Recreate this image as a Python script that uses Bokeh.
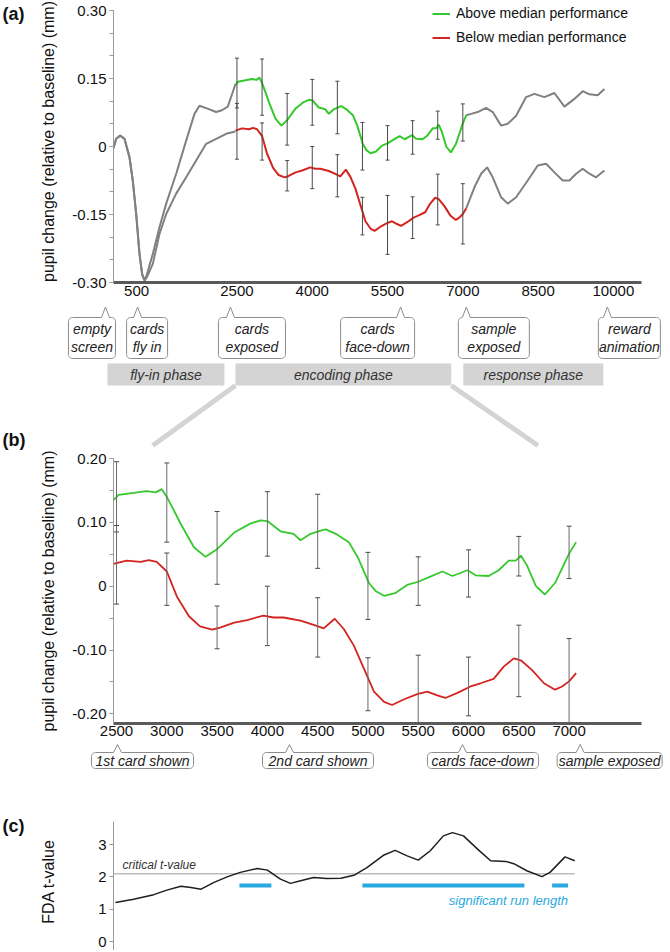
import math
from bokeh.plotting import figure
from bokeh.models import Range1d, FixedTicker, Legend, LegendItem
from bokeh.layouts import column, row
from bokeh.embed import file_html
from bokeh.resources import INLINE
from bokeh.core.properties import value

# ---------------- data (time in ms, pupil change in mm) ----------------
# panel (a) grey traces before the encoding phase
pre_above_t = [40, 93, 173, 259, 359, 424, 492, 558, 611, 657, 691, 823, 956, 1090, 1289, 1488, 1653, 1753, 1900, 2085, 2200, 2317, 2410, 2470]
pre_above_v = [-0.004, 0.017, 0.024, 0.017, -0.024, -0.075, -0.149, -0.237, -0.281, -0.294, -0.288, -0.237, -0.178, -0.126, -0.060, 0.013, 0.072, 0.090, 0.084, 0.076, 0.080, 0.088, 0.118, 0.138]
pre_below_t = [40, 93, 173, 259, 359, 424, 492, 558, 611, 660, 720, 823, 956, 1090, 1289, 1488, 1687, 1886, 2085, 2284, 2470]
pre_below_v = [-0.004, 0.017, 0.024, 0.017, -0.024, -0.075, -0.149, -0.237, -0.283, -0.296, -0.285, -0.259, -0.193, -0.149, -0.104, -0.068, -0.031, 0.006, 0.017, 0.028, 0.033]

# encoding phase (shown in (a) and (b))
above_t = [2470, 2520, 2670, 2800, 2890, 2950, 3000, 3060, 3140, 3270, 3385, 3500, 3670, 3830, 3930, 4000, 4130, 4260, 4330, 4430, 4530, 4580, 4680, 4810, 4900, 5010, 5080, 5160, 5270, 5390, 5500, 5620, 5740, 5840, 5990, 6070, 6200, 6300, 6400, 6470, 6520, 6580, 6670, 6760, 6860, 7000, 7070]
above_v = [0.135, 0.143, 0.146, 0.149, 0.147, 0.152, 0.140, 0.122, 0.097, 0.061, 0.046, 0.058, 0.084, 0.098, 0.103, 0.102, 0.086, 0.082, 0.072, 0.082, 0.087, 0.089, 0.082, 0.069, 0.045, 0.005, -0.008, -0.015, -0.011, 0.002, 0.007, 0.015, 0.023, 0.016, 0.025, 0.017, 0.016, 0.025, 0.040, 0.040, 0.048, 0.033, 0.000, -0.013, 0.005, 0.051, 0.069]
below_t = [2470, 2600, 2740, 2820, 2900, 3000, 3100, 3220, 3330, 3450, 3530, 3670, 3800, 3960, 4060, 4160, 4330, 4490, 4560, 4670, 4760, 4860, 4960, 5060, 5160, 5240, 5360, 5490, 5590, 5690, 5770, 5890, 6020, 6120, 6250, 6350, 6450, 6520, 6630, 6750, 6860, 6930, 7000, 7070]
below_v = [0.035, 0.040, 0.038, 0.041, 0.038, 0.023, -0.016, -0.047, -0.063, -0.068, -0.065, -0.057, -0.053, -0.046, -0.049, -0.049, -0.054, -0.062, -0.066, -0.051, -0.067, -0.093, -0.129, -0.165, -0.181, -0.186, -0.177, -0.169, -0.165, -0.171, -0.175, -0.167, -0.157, -0.152, -0.145, -0.126, -0.113, -0.116, -0.131, -0.152, -0.162, -0.157, -0.149, -0.136]

# error bars every 500 ms
err_t = [2500, 3000, 3500, 4000, 4500, 5000, 5500, 6000, 6500, 7000]
above_lo = [0.085, 0.069, 0.003, 0.047, 0.028, -0.052, -0.030, -0.017, 0.016, 0.012]
above_hi = [0.195, 0.193, 0.117, 0.148, 0.144, 0.053, 0.046, 0.057, 0.078, 0.094]
below_lo = [-0.028, -0.030, -0.098, -0.093, -0.111, -0.195, -0.238, -0.203, -0.173, -0.215]
below_hi = [0.095, 0.052, -0.031, 0.000, -0.018, -0.112, -0.108, -0.111, -0.061, -0.082]

# panel (a) grey traces after the encoding phase
post_above_t = [7070, 7165, 7297, 7464, 7596, 7763, 7895, 8062, 8261, 8426, 8625, 8825, 9024, 9223, 9389, 9522, 9688, 9821]
post_above_v = [0.069, 0.072, 0.076, 0.085, 0.076, 0.046, 0.050, 0.068, 0.109, 0.116, 0.109, 0.118, 0.088, 0.105, 0.122, 0.115, 0.113, 0.127]
post_below_t = [7070, 7231, 7365, 7484, 7596, 7763, 7895, 8062, 8293, 8492, 8659, 8825, 8990, 9124, 9257, 9389, 9522, 9655, 9821]
post_below_v = [-0.136, -0.090, -0.060, -0.046, -0.068, -0.112, -0.126, -0.112, -0.075, -0.042, -0.038, -0.057, -0.075, -0.075, -0.060, -0.049, -0.060, -0.068, -0.053]

# panel (c) FDA t-values
fda_t = [2490, 2670, 2870, 3000, 3140, 3240, 3340, 3470, 3600, 3730, 3900, 4000, 4130, 4230, 4330, 4460, 4590, 4730, 4860, 4990, 5160, 5270, 5390, 5500, 5620, 5750, 5840, 5950, 6090, 6220, 6370, 6450, 6580, 6730, 6810, 6960, 7056]
fda_v = [1.21, 1.31, 1.45, 1.59, 1.71, 1.67, 1.62, 1.83, 2.00, 2.14, 2.26, 2.21, 1.93, 1.80, 1.88, 1.98, 1.95, 1.96, 2.05, 2.29, 2.68, 2.82, 2.65, 2.52, 2.81, 3.27, 3.37, 3.27, 2.86, 2.50, 2.48, 2.41, 2.19, 2.01, 2.14, 2.62, 2.50]
critical_t = 2.1
run_start = [3722, 4945, 6831]
run_end = [4040, 6556, 6990]
run_level = 1.73

# ticks / labels
a_xticks = [500, 2500, 4000, 5500, 7000, 8500, 10000]
a_yticks = [-0.30, -0.15, 0.0, 0.15, 0.30]
a_ylabels = ["-0.30", "-0.15", "0", "0.15", "0.30"]
b_xticks = [2500, 3000, 3500, 4000, 4500, 5000, 5500, 6000, 6500, 7000]
b_yticks = [-0.20, -0.10, 0.0, 0.10, 0.20]
b_ylabels = ["-0.20", "-0.10", "0", "0.10", "0.20"]
c_yticks = [0, 1, 2, 3]

series_names = ["Above median performance", "Below median performance"]
callouts_a = ["empty\nscreen", "cards\nfly in", "cards\nexposed", "cards\nface-down", "sample\nexposed", "reward\nanimation"]
callouts_a_t = [-120, 520, 2370, 5760, 7070, 9880]
phases = ["fly-in phase", "encoding phase", "response phase"]
phase_start = [-80, 2470, 7010]
phase_end = [2250, 6770, 9800]
callouts_b = ["1st card shown", "2nd card shown", "cards face-down", "sample exposed"]
callouts_b_t = [2510, 4220, 5940, 7110]

# ---------------- styling / layout ----------------
FONT = "Liberation Sans"
GREEN = "#36c82c"
RED = "#d42420"
GREY = "#808080"
BLUE = "#2aa8e0"
FIG_W = 670
FL = 113
FW = 528
FR = FIG_W - FL - FW
LAB_W = 30  # width of the little panel-letter figures

A_X = (40, 10560)
B_X = (2470, 7720)


def kx(xr):
    return (xr[1] - xr[0]) / FW


def page_to_t(px, xr):
    return xr[0] + (px - FL) * kx(xr)


def t_to_page(t, xr):
    return FL + (t - xr[0]) / kx(xr)


def strip_range(xr):
    k = kx(xr)
    return Range1d(xr[0] - FL * k, xr[0] + (FIG_W - FL) * k)


def make_fig(h, xr, yr, top, bottom, xaxis=True, yaxis=True, width=FIG_W, left=FL):
    p = figure(width=width, height=h, x_range=xr, y_range=yr, output_backend="svg",
               toolbar_location=None, title=None, tools="",
               x_axis_type="linear" if xaxis else None,
               y_axis_type="linear" if yaxis else None,
               min_border_left=left if yaxis else 0, min_border_right=FR if yaxis else 0,
               min_border_top=top, min_border_bottom=bottom)
    p.grid.visible = False
    p.outline_line_color = None
    p.background_fill_color = "white"
    p.border_fill_color = "white"
    try:
        p.frame_align = False
    except Exception:
        pass
    return p


def letter_fig(h, txt, y_center):
    f = make_fig(h, Range1d(0, LAB_W), Range1d(h, 0), 0, 0, xaxis=False, yaxis=False, width=LAB_W)
    f.text(x=[2], y=[y_center], text=[txt], text_font=value(FONT), text_font_style="bold",
           text_font_size="18px", text_color="#111111", text_align="left", text_baseline="middle")
    return f


def style_y(ax, ticks, minor, labels, title, standoff, bounds):
    ax.ticker = FixedTicker(ticks=ticks, minor_ticks=minor)
    ax.bounds = bounds
    if labels is not None:
        ax.major_label_overrides = {t: l for t, l in zip(ticks, labels)}
    ax.axis_label = title
    ax.axis_label_text_font = FONT
    ax.axis_label_text_font_size = "16px"
    ax.axis_label_text_font_style = "normal"
    ax.axis_label_text_color = "#111111"
    ax.axis_label_standoff = standoff
    ax.major_label_text_font = FONT
    ax.major_label_text_font_size = "15px"
    ax.major_label_text_color = "#111111"
    ax.major_label_standoff = 3
    ax.axis_line_color = "#9a9a9a"
    ax.major_tick_line_color = "#9a9a9a"
    ax.minor_tick_line_color = "#9a9a9a"
    ax.major_tick_out = 4
    ax.major_tick_in = 0
    ax.minor_tick_out = 4
    ax.minor_tick_in = 0


def style_x(ax, ticks):
    ax.ticker = FixedTicker(ticks=ticks)
    ax.major_label_text_font = FONT
    ax.major_label_text_font_size = "15px"
    ax.major_label_text_color = "#111111"
    ax.major_label_standoff = 3
    ax.axis_line_color = "#5a5a5a"
    ax.axis_line_width = 3
    ax.major_tick_line_color = None
    ax.minor_tick_line_color = None
    ax.major_tick_out = 0
    ax.major_tick_in = 0


def bubble(L, R, T, B, tip, tip_y, r=4, hw=4, n=6):
    pts = [(L + r, T), (tip - hw, T), (tip, tip_y), (tip + hw, T), (R - r, T)]
    corners = [(R - r, T + r, -90), (R - r, B - r, 0), (L + r, B - r, 90), (L + r, T + r, 180)]
    for cx, cy, a0 in corners:
        for i in range(n + 1):
            a = math.radians(a0 + 90 * i / n)
            pts.append((cx + r * math.cos(a), cy + r * math.sin(a)))
    return pts


def add_callouts(p, xr, texts, tips, offsets, top, bottom, tip_y):
    for txt, tip, (ol, orr) in zip(texts, tips, offsets):
        tp = t_to_page(tip, xr)
        pts = bubble(tp + ol, tp + orr, top, bottom, tp, tip_y)
        xs = [page_to_t(x, xr) for x, _ in pts]
        ys = [y for _, y in pts]
        p.patch(xs, ys, fill_color="white", line_color="#8c8c8c", line_width=1)
        cx = page_to_t(tp + (ol + orr) / 2, xr)
        p.text(x=[cx], y=[(top + bottom) / 2], text=[txt], text_font=value(FONT),
               text_font_style="italic", text_font_size="14px", text_color="#222222",
               text_align="center", text_baseline="middle", text_line_height=1.15)


# ---------------- panel (a) ----------------
A_H, A_TOP, A_BOT = 306, 0, 24
A_SCALE = 453.3  # px per mm
A_Y = (-0.30, 0.30 + 10 / A_SCALE)
pa = make_fig(A_H, Range1d(*A_X), Range1d(*A_Y), A_TOP, A_BOT, width=FIG_W - LAB_W, left=FL - LAB_W)
style_y(pa.yaxis[0], a_yticks, [round(-0.30 + 0.05 * i, 2) for i in range(13)], a_ylabels,
        "pupil change (relative to baseline) (mm)", 12, (-0.30, 0.30))
style_x(pa.xaxis[0], a_xticks)

pa.line(pre_above_t, pre_above_v, color=GREY, line_width=2)
pa.line(pre_below_t, pre_below_v, color=GREY, line_width=2)
pa.line(post_above_t, post_above_v, color=GREY, line_width=2)
pa.line(post_below_t, post_below_v, color=GREY, line_width=2)
g_a = pa.line(above_t, above_v, color=GREEN, line_width=2)
r_a = pa.line(below_t, below_v, color=RED, line_width=2)
for lo, hi in ((above_lo, above_hi), (below_lo, below_hi)):
    pa.segment(x0=err_t, y0=lo, x1=err_t, y1=hi, line_color="#4a4a4a", line_width=1)
    pa.scatter(err_t, lo, marker="dash", size=4, line_color="#4a4a4a")
    pa.scatter(err_t, hi, marker="dash", size=4, line_color="#4a4a4a")

frame_bottom_a = A_H - A_BOT
legend = Legend(items=[LegendItem(label=series_names[0], renderers=[g_a]),
                       LegendItem(label=series_names[1], renderers=[r_a])],
                location=(319, frame_bottom_a - 45.5), orientation="vertical",
                glyph_width=18, glyph_height=17, label_height=17, spacing=7,
                label_standoff=6, padding=0, margin=0, border_line_color=None,
                background_fill_alpha=0, label_text_font=FONT, label_text_font_size="14px",
                label_text_color="#111111")
pa.add_layout(legend)
fa = letter_fig(A_H, "(a)", 13)

# ---------------- strip under (a): events, phases, zoom lines ----------------
S1_H = 144
S1_Y0 = A_H  # page y of strip top
s1 = make_fig(S1_H, strip_range(A_X), Range1d(S1_H, 0), 0, 0, xaxis=False, yaxis=False)
add_callouts(s1, A_X, callouts_a, callouts_a_t,
             [(-37, 10), (-11, 30), (-12, 55), (-60, 14), (-8, 63), (-9, 53)],
             top=317 - S1_Y0, bottom=358 - S1_Y0, tip_y=0.5)
ph_top, ph_bot = 363 - S1_Y0, 385 - S1_Y0
s1.quad(left=phase_start, right=phase_end, top=[ph_top] * 3, bottom=[ph_bot] * 3,
        fill_color="#d4d4d4", line_color=None)
s1.text(x=[(a + b) / 2 for a, b in zip(phase_start, phase_end)], y=[(ph_top + ph_bot) / 2] * 3,
        text=phases, text_font=value(FONT), text_font_style="italic", text_font_size="14px",
        text_color="#333333", text_align="center", text_baseline="middle")
zoom_to_b = [2860, 6690]
zx1 = [page_to_t(t_to_page(t, B_X), A_X) for t in zoom_to_b]
s1.segment(x0=[phase_start[1], phase_end[1]], y0=[ph_bot, ph_bot], x1=zx1, y1=[445 - S1_Y0] * 2,
           line_color="#d4d4d4", line_width=5)
s1.text(x=[page_to_t(2, A_X)], y=[439 - S1_Y0], text=["(b)"], text_font=value(FONT),
        text_font_style="bold", text_font_size="18px", text_color="#111111",
        text_align="left", text_baseline="middle")

# ---------------- panel (b) ----------------
B_H, B_TOP, B_BOT = 293, 8, 20
pb = make_fig(B_H, Range1d(*B_X), Range1d(-0.215, 0.20), B_TOP, B_BOT)
style_y(pb.yaxis[0], b_yticks, [round(-0.20 + 0.05 * i, 2) for i in range(9)], b_ylabels,
        "pupil change (relative to baseline) (mm)", 12, (-0.215, 0.20))
style_x(pb.xaxis[0], b_xticks)
pb.xaxis[0].major_label_standoff = 2
pb.line(above_t, above_v, color=GREEN, line_width=1.8)
pb.line(below_t, below_v, color=RED, line_width=1.8)
for lo, hi in ((above_lo, above_hi), (below_lo, below_hi)):
    pb.segment(x0=err_t, y0=lo, x1=err_t, y1=hi, line_color="#6a6a6a", line_width=1)
    pb.scatter(err_t, lo, marker="dash", size=5, line_color="#4a4a4a")
    pb.scatter(err_t, hi, marker="dash", size=5, line_color="#4a4a4a")

# ---------------- strip under (b) ----------------
S2_H = 33
S2_Y0 = A_H + S1_H + B_H
s2 = make_fig(S2_H, strip_range(B_X), Range1d(S2_H, 0), 0, 0, xaxis=False, yaxis=False)
add_callouts(s2, B_X, callouts_b, callouts_b_t,
             [(-26, 76), (-27, 84), (-35, 76), (-23, 82)],
             top=752 - S2_Y0, bottom=768 - S2_Y0, tip_y=1)

# ---------------- panel (c) ----------------
C_Y0 = S2_Y0 + S2_H
C_H, C_TOP = 174, 812 - C_Y0
C_SCALE = 32.3  # px per t unit
C_ZERO_PAGE = 941
c_bottom = -((C_Y0 + C_H) - C_ZERO_PAGE) / C_SCALE
C_Y = (c_bottom, c_bottom + (C_H - C_TOP) / C_SCALE)
pc = make_fig(C_H, Range1d(*B_X), Range1d(*C_Y), C_TOP, 0, xaxis=False,
              width=FIG_W - LAB_W, left=FL - LAB_W)
style_y(pc.yaxis[0], c_yticks, [], None, "FDA t-value", 38, (c_bottom, (C_ZERO_PAGE - 821) / C_SCALE))
pc.line([fda_t[0] - 20, fda_t[-1]], [critical_t, critical_t], line_color="#bdbdbd", line_width=1.5)
pc.line(fda_t, fda_v, line_color="#1e1e1e", line_width=1.5)
pc.segment(x0=run_start, y0=[run_level] * 3, x1=run_end, y1=[run_level] * 3,
           line_color=BLUE, line_width=4)
pc.text(x=[fda_t[0] + 70], y=[critical_t + 0.04], text=["critical t-value"], text_font=value(FONT),
        text_font_style="italic", text_font_size="12px", text_color="#333333",
        text_align="left", text_baseline="bottom")
pc.text(x=[run_end[-1]], y=[1.27], text=["significant run length"], text_font=value(FONT),
        text_font_style="italic", text_font_size="13px", text_color=BLUE,
        text_align="right", text_baseline="middle")
fc = letter_fig(C_H, "(c)", 825 - C_Y0)

layout = column(row(fa, pa, spacing=0), s1, pb, s2, row(fc, pc, spacing=0), spacing=0)
open("out.html", "w").write(file_html(layout, INLINE))
